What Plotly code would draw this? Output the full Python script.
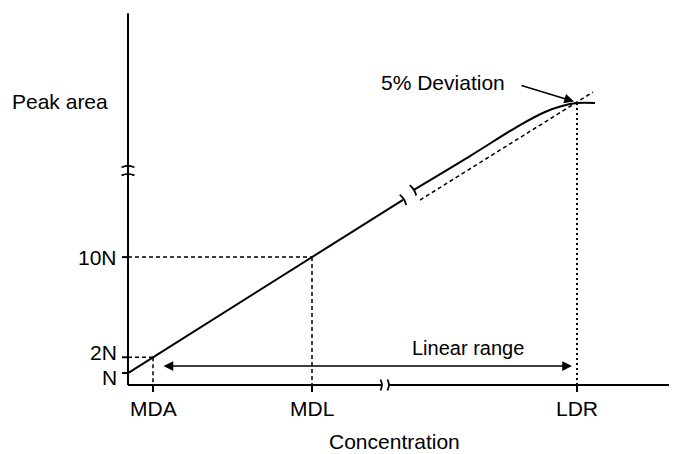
import plotly.graph_objects as go

# ---- data (schematic units: x = concentration, y = peak area in units of N) ----
x_tick_labels = ["MDA", "MDL", "LDR"]
x_tick_vals = [1.25, 9.2, 22.45]
y_tick_labels = ["N", "2N", "10N"]
y_tick_vals = [0.95, 2.2, 10.15]

# linear part of response (before break)
resp_x_low = [0, 1.25, 9.2, 13.75]
resp_y_low = [0.95, 2.2, 10.15, 14.7]
# upper part of response (after break), bending over
resp_x_high = [14.25, 17.1, 19.6, 20.85, 21.7, 22.45, 23.35]
resp_y_high = [15.45, 18.17, 20.63, 21.67, 22.14, 22.38, 22.38]
# extrapolated ideal linear response (dashed)
ext_x = [14.6, 23.25]
ext_y = [14.68, 23.25]

ldr_point = (22.45, 22.38)
y_axis_top = 29.5
y_break = (16.75, 17.4)
x_axis_end = 27.2
x_break = (12.7, 13.05)
linear_range = (1.7, 22.2, 1.5)

# pixel scale of the axes (px per unit) used for small decorations
PX_X, PX_Y = 20.0, 12.6
ORIGIN_X, ORIGIN_Y = 128, 385   # page position of the axis origin
PAGE_OFF = 8                    # default body margin of the html page
W, H = 677, 454
FONT = dict(family="Liberation Sans, Arial, Helvetica, sans-serif", size=21, color="black")

fig = go.Figure()

def line(xs, ys, width=2, dash="solid", shape="linear"):
    fig.add_trace(go.Scatter(x=xs, y=ys, mode="lines", hoverinfo="skip", showlegend=False,
                             line=dict(color="black", width=width, dash=dash, shape=shape,
                                       smoothing=1.0 if shape == "spline" else None)))

# axes
line([0, 0], [0, y_break[1]])
line([0, 0], [y_break[0], y_axis_top])
line([0, x_break[0]], [0, 0])
line([x_break[1], x_axis_end], [0, 0])

# axis break marks
hw = 6.5 / PX_X
for yb in y_break:
    line([-hw, 0, hw], [yb - 1.5 / PX_Y, yb, yb - 1.5 / PX_Y], width=1.8, shape="spline")
hh = 5.5 / PX_Y
for xb in x_break:
    line([xb - 1.5 / PX_X, xb, xb - 1.5 / PX_X], [hh, 0, -hh], width=1.8, shape="spline")

# ticks
for xv in x_tick_vals:
    line([xv, xv], [0, -7 / PX_Y], width=2)
for yv in y_tick_vals:
    line([-6 / PX_X, 0], [yv, yv], width=2)

# guide lines
line([0, resp_x_low[2]], [resp_y_low[2]] * 2, width=1.5, dash="4px,3px")
line([resp_x_low[2]] * 2, [resp_y_low[2], 0], width=1.5, dash="4px,3px")
line([0, resp_x_low[1]], [resp_y_low[1]] * 2, width=1.5, dash="4px,3px")
line([resp_x_low[1]] * 2, [resp_y_low[1], 0], width=1.5, dash="4px,3px")
line([ldr_point[0]] * 2, [ldr_point[1], 0], width=2, dash="2px,3px")

# response curve
line(resp_x_low, resp_y_low, width=2)
line(resp_x_high, resp_y_high, width=2, shape="spline")
line(ext_x, ext_y, width=1.5, dash="4px,3px")

# break marks on the curve (perpendicular to the line in pixel space)
px, py = 3.2 / PX_X, 5.1 / PX_Y
for (bx, by) in [(resp_x_low[-1], resp_y_low[-1]), (resp_x_high[0], resp_y_high[0])]:
    line([bx - px, bx + 0.06, bx + px], [by + py, by, by - py], width=1.8, shape="spline")

ann = []
# tick labels
for xv, lab in zip(x_tick_vals, x_tick_labels):
    ann.append(dict(x=xv, y=-1.83, text=lab, showarrow=False, xanchor="center", yanchor="middle"))
yshifts = [-4, 5, 0]
for yv, lab, ys in zip(y_tick_vals, y_tick_labels, yshifts):
    ann.append(dict(x=-0.45, y=yv, text=lab, showarrow=False, xanchor="right", yanchor="middle", yshift=ys))
# titles
ann.append(dict(x=-3.4, y=22.5, text="Peak area", showarrow=False, xanchor="center", yanchor="middle"))
ann.append(dict(x=13.3, y=-4.5, text="Concentration", showarrow=False, xanchor="center", yanchor="middle"))
ann.append(dict(x=17.0, y=2.95, text="Linear range", showarrow=False, xanchor="center", yanchor="middle",
                font=dict(FONT, size=20)))
ann.append(dict(x=15.75, y=23.97, text="5% Deviation", showarrow=False, xanchor="center", yanchor="middle"))
# arrows
ann.append(dict(x=22.3, y=22.5, ax=19.6, ay=23.8, axref="x", ayref="y", text="", showarrow=True,
                arrowhead=2, arrowsize=1.3, arrowwidth=1.5, arrowcolor="black"))
ann.append(dict(x=linear_range[1], y=linear_range[2], ax=linear_range[0], ay=linear_range[2],
                axref="x", ayref="y", text="", showarrow=True, arrowside="end+start",
                arrowhead=2, startarrowhead=2, arrowsize=1.3, startarrowsize=1.3,
                arrowwidth=1.5, arrowcolor="black"))
for a in ann:
    a.setdefault("font", FONT)
    a["xref"] = "x"
    a["yref"] = "y"

# axis ranges chosen so that the origin lands at (ORIGIN_X, ORIGIN_Y) on the page
x0 = (PAGE_OFF - ORIGIN_X) / PX_X
x1 = (PAGE_OFF + W - ORIGIN_X) / PX_X
y_top = (ORIGIN_Y - PAGE_OFF) / PX_Y
y_bot = (ORIGIN_Y - PAGE_OFF - H) / PX_Y

fig.update_layout(
    width=W, height=H,
    margin=dict(l=0, r=0, t=0, b=0),
    paper_bgcolor="white", plot_bgcolor="white",
    xaxis=dict(range=[x0, x1], visible=False, fixedrange=True),
    yaxis=dict(range=[y_bot, y_top], visible=False, fixedrange=True),
    annotations=ann,
    font=FONT,
)

fig.write_html("out.html")
